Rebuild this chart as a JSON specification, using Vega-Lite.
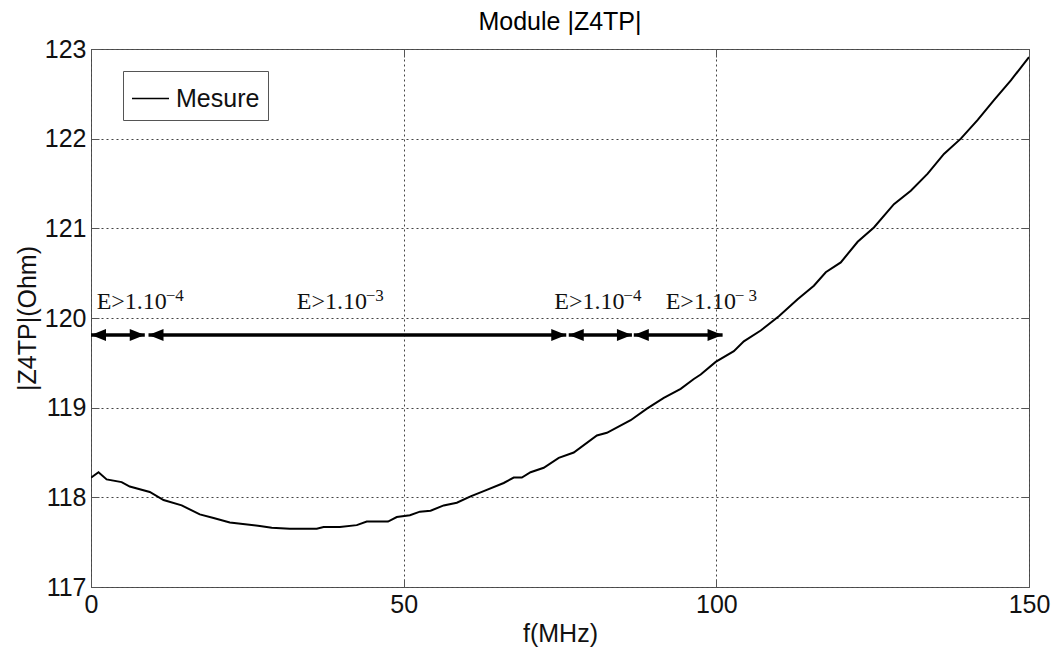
{
  "$schema": "https://vega.github.io/schema/vega-lite/v6.json",
  "width": 938,
  "height": 538,
  "autosize": "none",
  "padding": {"left": 91, "top": 49, "right": 26, "bottom": 64},
  "background": "white",
  "config": {
    "view": {"stroke": "#555", "strokeWidth": 1},
    "font": "Liberation Sans"
  },
  "title": {
    "text": "Module |Z4TP|",
    "fontSize": 25,
    "fontWeight": "normal",
    "font": "Liberation Sans",
    "color": "#000",
    "offset": 2,
    "anchor": "middle",
    "frame": "group"
  },
  "datasets": {
    "curve": [
      {"f": 0, "z": 118.22}, {"f": 1.2, "z": 118.28}, {"f": 2.5, "z": 118.2}, {"f": 4.9, "z": 118.17},
      {"f": 6.2, "z": 118.12}, {"f": 9.4, "z": 118.06}, {"f": 11.6, "z": 117.97}, {"f": 14.5, "z": 117.91},
      {"f": 17.4, "z": 117.81}, {"f": 19.6, "z": 117.77}, {"f": 22.2, "z": 117.72}, {"f": 27.0, "z": 117.68},
      {"f": 28.9, "z": 117.66}, {"f": 31.8, "z": 117.65}, {"f": 36.1, "z": 117.65}, {"f": 37.2, "z": 117.67},
      {"f": 39.8, "z": 117.67}, {"f": 42.5, "z": 117.69}, {"f": 44.1, "z": 117.73}, {"f": 47.5, "z": 117.73},
      {"f": 48.9, "z": 117.78}, {"f": 51.0, "z": 117.8}, {"f": 52.6, "z": 117.84}, {"f": 54.3, "z": 117.85},
      {"f": 56.4, "z": 117.91}, {"f": 58.5, "z": 117.94}, {"f": 60.7, "z": 118.01}, {"f": 62.8, "z": 118.07},
      {"f": 66.0, "z": 118.16}, {"f": 67.6, "z": 118.22}, {"f": 68.9, "z": 118.22}, {"f": 70.3, "z": 118.28},
      {"f": 72.4, "z": 118.33}, {"f": 74.8, "z": 118.44}, {"f": 77.2, "z": 118.5}, {"f": 80.9, "z": 118.69},
      {"f": 82.5, "z": 118.72}, {"f": 86.3, "z": 118.86}, {"f": 88.9, "z": 118.99}, {"f": 91.6, "z": 119.11},
      {"f": 94.3, "z": 119.21}, {"f": 96.4, "z": 119.32}, {"f": 97.5, "z": 119.37}, {"f": 99.9, "z": 119.51},
      {"f": 102.8, "z": 119.63}, {"f": 104.4, "z": 119.74}, {"f": 107.1, "z": 119.86}, {"f": 110.0, "z": 120.02},
      {"f": 113.0, "z": 120.21}, {"f": 115.6, "z": 120.36}, {"f": 117.5, "z": 120.51}, {"f": 119.9, "z": 120.62},
      {"f": 122.6, "z": 120.85}, {"f": 125.2, "z": 121.01}, {"f": 128.4, "z": 121.27}, {"f": 131.1, "z": 121.42},
      {"f": 133.8, "z": 121.61}, {"f": 136.4, "z": 121.83}, {"f": 139.1, "z": 122.0}, {"f": 141.8, "z": 122.21},
      {"f": 144.4, "z": 122.43}, {"f": 147.1, "z": 122.65}, {"f": 150, "z": 122.91}
    ],
    "arrows": [
      {"start": 0, "end": 8.6, "z": 119.81},
      {"start": 9.2, "end": 76.0, "z": 119.81},
      {"start": 76.4, "end": 86.5, "z": 119.81},
      {"start": 86.8, "end": 101.0, "z": 119.81}
    ],
    "labels": [
      {"f": 0.9, "z": 120.1, "base": "E>1.10", "exp": "−4"},
      {"f": 32.9, "z": 120.1, "base": "E>1.10", "exp": "−3"},
      {"f": 74.1, "z": 120.1, "base": "E>1.10", "exp": "−4"},
      {"f": 91.9, "z": 120.1, "base": "E>1.10", "exp": "− 3"}
    ]
  },
  "resolve": {"axis": {"x": "independent", "y": "independent"}},
  "layer": [
    {
      "data": {"name": "curve"},
      "mark": {"type": "line", "color": "black", "strokeWidth": 2, "clip": true},
      "encoding": {
        "x": {
          "field": "f", "type": "quantitative",
          "scale": {"domain": [0, 150], "nice": false, "zero": false},
          "axis": {
            "values": [0, 50, 100, 150], "grid": true, "gridDash": [2, 3], "gridColor": "#444",
            "tickSize": -8, "tickColor": "#555", "domain": false,
            "labelFontSize": 25, "labelColor": "#111", "labelPadding": 13, "labelFlush": false,
            "title": "f(MHz)", "titleFontSize": 25, "titleFontWeight": "normal", "titleColor": "#111", "titlePadding": 4
          }
        },
        "y": {
          "field": "z", "type": "quantitative",
          "scale": {"domain": [117, 123], "nice": false, "zero": false},
          "axis": {
            "values": [117, 118, 119, 120, 121, 122, 123], "grid": true, "gridDash": [2, 3], "gridColor": "#444",
            "tickSize": -8, "tickColor": "#555", "domain": false,
            "labelFontSize": 25, "labelColor": "#111", "labelPadding": 13, "labelFlush": false,
            "title": "|Z4TP|(Ohm)", "titleFontSize": 25, "titleFontWeight": "normal", "titleColor": "#111", "titlePadding": 4
          }
        },
        "color": {
          "datum": "Mesure",
          "scale": {"range": ["black"]},
          "legend": {
            "orient": "none", "legendX": 32, "legendY": 22, "title": null,
            "strokeColor": "#555", "fillColor": "white", "padding": 8,
            "symbolType": "stroke", "symbolSize": 1369, "symbolStrokeWidth": 1.5, "symbolStrokeColor": "black",
            "labelFontSize": 25, "labelFont": "Liberation Sans", "labelColor": "#111", "labelOffset": 6
          }
        }
      }
    },
    {
      "data": {"name": "arrows"},
      "mark": {"type": "rule", "color": "black", "strokeWidth": 3.5},
      "encoding": {
        "x": {"field": "start", "type": "quantitative", "axis": null},
        "x2": {"field": "end"},
        "y": {"field": "z", "type": "quantitative", "axis": null}
      }
    },
    {
      "data": {"name": "arrows"},
      "mark": {"type": "point", "shape": "M 0 0 L 2 -0.8 L 2 0.8 Z", "filled": true, "color": "black", "opacity": 1, "size": 225},
      "encoding": {
        "x": {"field": "start", "type": "quantitative", "axis": null},
        "y": {"field": "z", "type": "quantitative", "axis": null}
      }
    },
    {
      "data": {"name": "arrows"},
      "mark": {"type": "point", "shape": "M 0 0 L -2 -0.8 L -2 0.8 Z", "filled": true, "color": "black", "opacity": 1, "size": 225},
      "encoding": {
        "x": {"field": "end", "type": "quantitative", "axis": null},
        "y": {"field": "z", "type": "quantitative", "axis": null}
      }
    },
    {
      "data": {"name": "labels"},
      "mark": {"type": "text", "font": "Liberation Serif", "fontSize": 17, "align": "left", "baseline": "alphabetic", "color": "#111", "dx": 69, "dy": -8},
      "encoding": {
        "x": {"field": "f", "type": "quantitative", "axis": null},
        "y": {"field": "z", "type": "quantitative", "axis": null},
        "text": {"field": "exp"}
      }
    },
    {
      "data": {"name": "labels"},
      "mark": {"type": "text", "font": "Liberation Serif", "fontSize": 24, "align": "left", "baseline": "alphabetic", "color": "#111"},
      "encoding": {
        "x": {
          "field": "f", "type": "quantitative",
          "axis": {"orient": "top", "values": [0, 50, 100, 150], "labels": false, "grid": false, "domain": false, "tickSize": -8, "tickColor": "#555", "title": null}
        },
        "y": {
          "field": "z", "type": "quantitative",
          "axis": {"orient": "right", "values": [117, 118, 119, 120, 121, 122, 123], "labels": false, "grid": false, "domain": false, "tickSize": -8, "tickColor": "#555", "title": null}
        },
        "text": {"field": "base"}
      }
    }
  ]
}
